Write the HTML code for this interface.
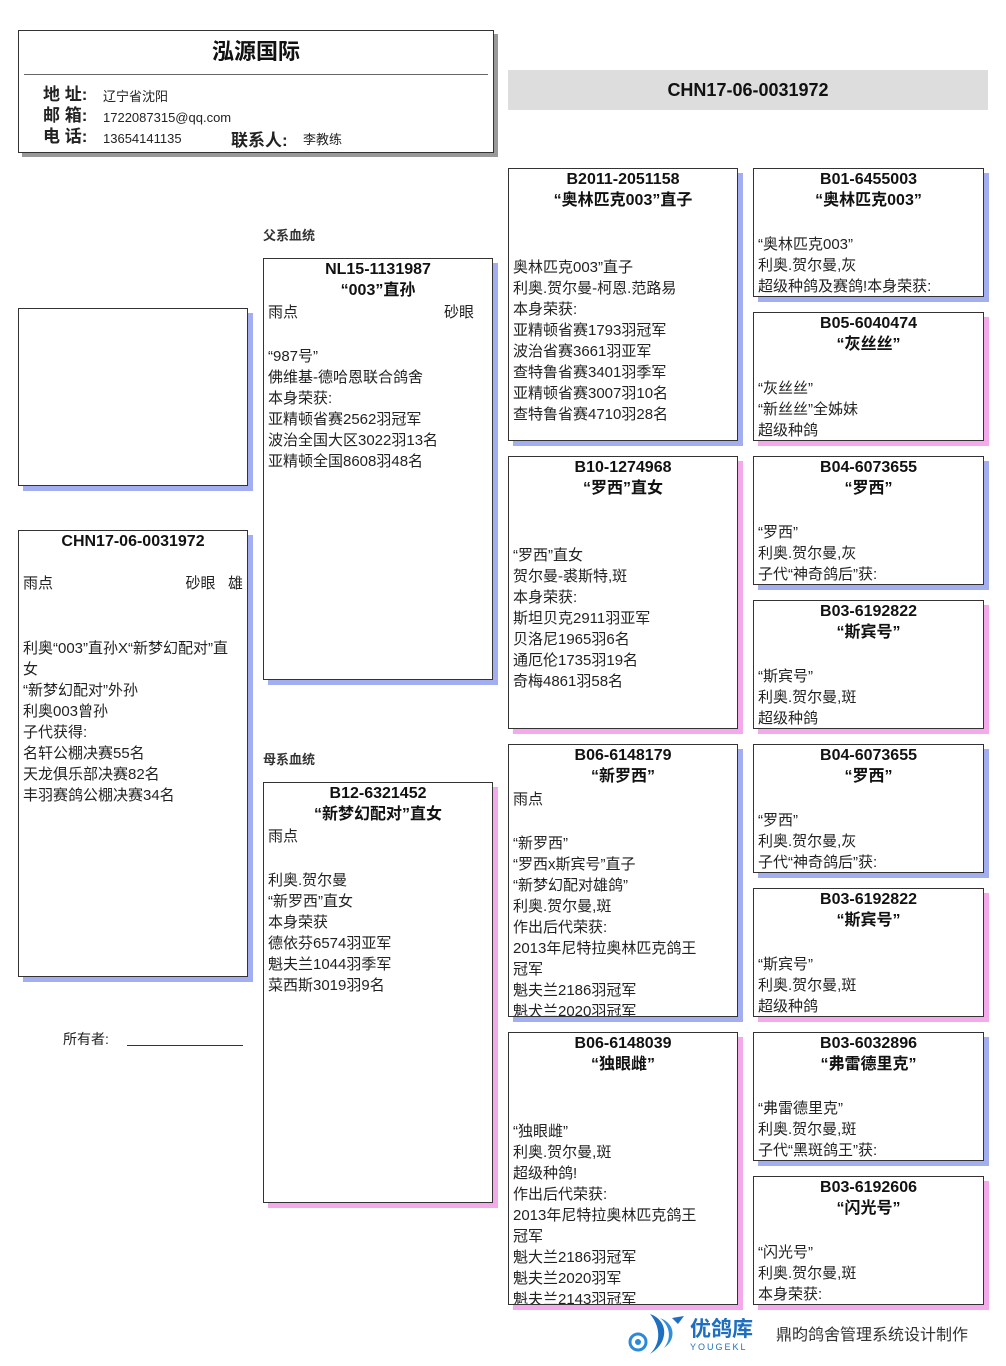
<!DOCTYPE html>
<html><head><meta charset="utf-8">
<style>
*{margin:0;padding:0;box-sizing:border-box}
body{width:1006px;height:1366px;background:#fff;position:relative;overflow:hidden;font-family:"Liberation Sans","Noto Sans CJK SC",sans-serif;color:#222}
.a{position:absolute}
.box{position:absolute;border:1px solid #333;background:#fff}
.m{box-shadow:5px 5px 0 #a3aef0}
.f{box-shadow:5px 5px 0 #f3a9ea}
.t{position:absolute;left:0;right:0;top:0;text-align:center;font-weight:bold;font-size:16px;line-height:21px;color:#111}
.b{position:absolute;left:4px;right:2px;font-size:15px;line-height:21px;white-space:nowrap}
.lab{font-size:13px;font-weight:bold;color:#333}
</style></head><body>

<!-- header -->
<div class="box" style="left:18px;top:30px;width:476px;height:123px;box-shadow:4px 4px 0 #999">
 <div class="a" style="left:0;right:0;top:3px;text-align:center;font-size:22px;font-weight:bold;color:#111">泓源国际</div>
 <div class="a" style="left:5px;right:5px;top:43px;border-top:1px solid #666"></div>
 <div class="a" style="left:24px;top:53px;font-size:17px;line-height:21px;font-weight:bold">地 址:<br>邮 箱:<br>电 话:</div>
 <div class="a" style="left:84px;top:55px;font-size:13px;line-height:21px">辽宁省沈阳<br>1722087315@qq.com<br>13654141135</div>
 <div class="a" style="left:212px;top:95px;font-size:17px;font-weight:bold">联系人:</div>
 <div class="a" style="left:284px;top:98px;font-size:13px">李教练</div>
</div>

<div class="a" style="left:508px;top:70px;width:480px;height:40px;background:#ddd;text-align:center;line-height:40px;font-weight:bold;font-size:18px;color:#111">CHN17-06-0031972</div>

<div class="box m" style="left:18px;top:308px;width:230px;height:178px"></div>

<div class="box m" style="left:18px;top:530px;width:230px;height:447px">
 <div class="t" style="top:0;font-size:16px">CHN17-06-0031972</div>
 <div class="b" style="top:42px">雨点</div>
 <div class="b" style="top:42px;left:auto;right:4px">砂眼&nbsp;&nbsp;&nbsp;雄</div>
 <div class="b" style="top:107px">利奥“003”直孙X“新梦幻配对”直<br>女<br>“新梦幻配对”外孙<br>利奥003曾孙<br>子代获得:<br>名轩公棚决赛55名<br>天龙俱乐部决赛82名<br>丰羽赛鸽公棚决赛34名</div>
</div>

<div class="a" style="left:63px;top:1029px;font-size:14px">所有者:</div>
<div class="a" style="left:127px;top:1045px;width:116px;border-top:1px solid #333"></div>

<div class="a lab" style="left:263px;top:225px">父系血统</div>
<div class="a lab" style="left:263px;top:749px">母系血统</div>

<!-- sire -->
<div class="box m" style="left:263px;top:258px;width:230px;height:422px">
 <div class="t">NL15-1131987<br>“003”直孙</div>
 <div class="b" style="top:43px">雨点</div>
 <div class="b" style="top:43px;left:auto;right:18px">砂眼</div>
 <div class="b" style="top:87px">“987号”<br>佛维基-德哈恩联合鸽舍<br>本身荣获:<br>亚精顿省赛2562羽冠军<br>波治全国大区3022羽13名<br>亚精顿全国8608羽48名</div>
</div>

<!-- dam -->
<div class="box f" style="left:263px;top:782px;width:230px;height:421px">
 <div class="t">B12-6321452<br>“新梦幻配对”直女</div>
 <div class="b" style="top:43px">雨点</div>
 <div class="b" style="top:87px">利奥.贺尔曼<br>“新罗西”直女<br>本身荣获<br>德依芬6574羽亚军<br>魁夫兰1044羽季军<br>菜西斯3019羽9名</div>
</div>

<!-- gen3 -->
<div class="box m" style="left:508px;top:168px;width:230px;height:273px">
 <div class="t">B2011-2051158<br>“奥林匹克003”直子</div>
 <div class="b" style="top:88px">奥林匹克003”直子<br>利奥.贺尔曼-柯恩.范路易<br>本身荣获:<br>亚精顿省赛1793羽冠军<br>波治省赛3661羽亚军<br>查特鲁省赛3401羽季军<br>亚精顿省赛3007羽10名<br>查特鲁省赛4710羽28名</div>
</div>
<div class="box f" style="left:508px;top:456px;width:230px;height:273px">
 <div class="t">B10-1274968<br>“罗西”直女</div>
 <div class="b" style="top:88px">“罗西”直女<br>贺尔曼-裘斯特,斑<br>本身荣获:<br>斯坦贝克2911羽亚军<br>贝洛尼1965羽6名<br>通厄伦1735羽19名<br>奇梅4861羽58名</div>
</div>
<div class="box m" style="left:508px;top:744px;width:230px;height:273px;overflow:hidden">
 <div class="t">B06-6148179<br>“新罗西”</div>
 <div class="b" style="top:44px">雨点</div>
 <div class="b" style="top:88px">“新罗西”<br>“罗西x斯宾号”直子<br>“新梦幻配对雄鸽”<br>利奥.贺尔曼,斑<br>作出后代荣获:<br>2013年尼特拉奥林匹克鸽王<br>冠军<br>魁夫兰2186羽冠军<br>魁犬兰2020羽冠军</div>
</div>
<div class="box f" style="left:508px;top:1032px;width:230px;height:273px;overflow:hidden">
 <div class="t">B06-6148039<br>“独眼雌”</div>
 <div class="b" style="top:88px">“独眼雌”<br>利奥.贺尔曼,斑<br>超级种鸽!<br>作出后代荣获:<br>2013年尼特拉奥林匹克鸽王<br>冠军<br>魁大兰2186羽冠军<br>魁夫兰2020羽军<br>魁夫兰2143羽冠军</div>
</div>

<!-- gen4 -->
<div class="box m" style="left:753px;top:168px;width:231px;height:129px">
 <div class="t">B01-6455003<br>“奥林匹克003”</div>
 <div class="b" style="top:65px">“奥林匹克003”<br>利奥.贺尔曼,灰<br>超级种鸽及赛鸽!本身荣获:</div>
</div>
<div class="box f" style="left:753px;top:312px;width:231px;height:129px">
 <div class="t">B05-6040474<br>“灰丝丝”</div>
 <div class="b" style="top:65px">“灰丝丝”<br>“新丝丝”全姊妹<br>超级种鸽</div>
</div>
<div class="box m" style="left:753px;top:456px;width:231px;height:129px">
 <div class="t">B04-6073655<br>“罗西”</div>
 <div class="b" style="top:65px">“罗西”<br>利奥.贺尔曼,灰<br>子代“神奇鸽后”获:</div>
</div>
<div class="box f" style="left:753px;top:600px;width:231px;height:129px">
 <div class="t">B03-6192822<br>“斯宾号”</div>
 <div class="b" style="top:65px">“斯宾号”<br>利奥.贺尔曼,斑<br>超级种鸽</div>
</div>
<div class="box m" style="left:753px;top:744px;width:231px;height:129px">
 <div class="t">B04-6073655<br>“罗西”</div>
 <div class="b" style="top:65px">“罗西”<br>利奥.贺尔曼,灰<br>子代“神奇鸽后”获:</div>
</div>
<div class="box f" style="left:753px;top:888px;width:231px;height:129px">
 <div class="t">B03-6192822<br>“斯宾号”</div>
 <div class="b" style="top:65px">“斯宾号”<br>利奥.贺尔曼,斑<br>超级种鸽</div>
</div>
<div class="box m" style="left:753px;top:1032px;width:231px;height:129px">
 <div class="t">B03-6032896<br>“弗雷德里克”</div>
 <div class="b" style="top:65px">“弗雷德里克”<br>利奥.贺尔曼,斑<br>子代“黑斑鸽王”获:</div>
</div>
<div class="box f" style="left:753px;top:1176px;width:231px;height:129px">
 <div class="t">B03-6192606<br>“闪光号”</div>
 <div class="b" style="top:65px">“闪光号”<br>利奥.贺尔曼,斑<br>本身荣获:</div>
</div>

<!-- logo -->
<svg class="a" style="left:620px;top:1312px" width="66" height="44" viewBox="0 0 66 44">
 <path d="M30 2 C48 8 50 30 30 42 C42 30 40 14 30 2Z" fill="#1f6fc0"/>
 <path d="M40 6 C56 12 56 28 44 36 C52 26 50 14 40 6Z" fill="#2f8fdc"/>
 <path d="M52 6 L64 4 L58 12Z" fill="#1f6fc0"/>
 <circle cx="18" cy="30" r="8" fill="none" stroke="#2a8ad8" stroke-width="3"/>
 <circle cx="18" cy="30" r="3" fill="#2a8ad8"/>
</svg>
<div class="a" style="left:690px;top:1318px;font-size:21px;font-weight:bold;color:#1f6fc0;line-height:24px">优鸽库</div>
<div class="a" style="left:690px;top:1342px;font-size:9px;color:#1f6fc0;letter-spacing:2px">YOUGEKL</div>
<div class="a" style="left:776px;top:1321px;font-size:16px;color:#333">鼎昀鸽舍管理系统设计制作</div>
</body></html>
